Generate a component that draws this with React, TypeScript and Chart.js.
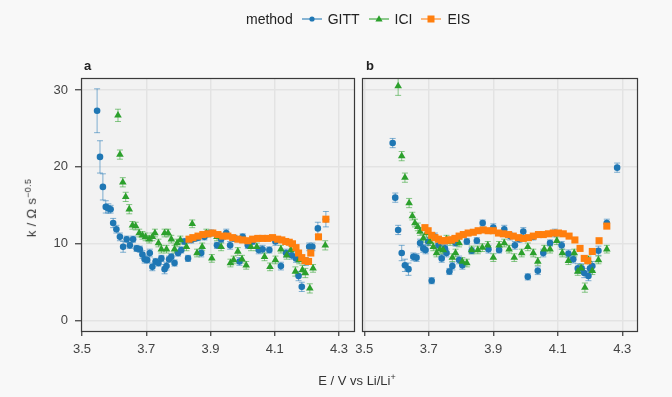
import React, { useEffect, useRef } from "react";
import { Chart, registerables } from "chart.js";

Chart.register(...registerables);

// ---------- DATA ----------
const xTicks = [3.5, 3.7, 3.9, 4.1, 4.3];
const yTicks = [0, 10, 20, 30];
const methods = ["GITT", "ICI", "EIS"];

// Panel a
const gittA_E = [3.547, 3.556, 3.565, 3.574, 3.582, 3.589, 3.597, 3.607, 3.618, 3.628, 3.639, 3.649, 3.659, 3.670, 3.680, 3.688, 3.695, 3.703, 3.711, 3.719, 3.729, 3.738, 3.747, 3.757, 3.763, 3.771, 3.778, 3.788, 3.799, 3.809, 3.819, 3.830, 3.840, 3.850, 3.861, 3.871, 3.881, 3.892, 3.902, 3.920, 3.933, 3.949, 3.961, 3.975, 3.990, 4.000, 4.016, 4.031, 4.050, 4.062, 4.083, 4.102, 4.119, 4.135, 4.153, 4.166, 4.174, 4.184, 4.197, 4.207, 4.217, 4.234, 4.259];
const gittA_k = [27.3, 21.3, 17.4, 14.8, 14.6, 14.5, 12.7, 11.9, 10.9, 9.6, 10.6, 9.8, 10.6, 9.4, 9.3, 8.6, 8.0, 7.9, 8.8, 7.0, 7.7, 7.5, 8.1, 6.7, 7.1, 8.0, 8.3, 7.5, 8.8, 9.2, 10.3, 8.1, 10.5, 10.7, 10.8, 8.8, 10.9, 11.3, 11.4, 9.8, 10.6, 11.4, 9.8, 10.7, 7.7, 10.9, 9.8, 10.3, 9.2, 9.3, 9.2, 10.3, 7.1, 8.8, 8.5, 8.1, 5.8, 4.4, 7.7, 9.6, 9.6, 12.0, 13.2];
const gittA_err = [2.85, 2.1, 1.7, 0.8, 0.6, 0.5, 0.6, 0.5, 0.5, 0.7, 0.4, 0.4, 0.4, 0.4, 0.4, 0.5, 0.5, 0.4, 0.5, 0.5, 0.4, 0.4, 0.4, 0.6, 0.5, 0.4, 0.4, 0.4, 0.4, 0.4, 0.4, 0.4, 0.4, 0.4, 0.4, 0.5, 0.4, 0.4, 0.4, 0.4, 0.4, 0.5, 0.5, 0.4, 0.5, 0.4, 0.4, 0.4, 0.5, 0.5, 0.4, 0.5, 0.5, 0.5, 0.5, 0.5, 0.6, 0.6, 0.5, 0.5, 0.5, 0.8, 1.0];

const iciA_E = [3.612, 3.618, 3.627, 3.636, 3.647, 3.657, 3.667, 3.678, 3.688, 3.698, 3.709, 3.719, 3.727, 3.738, 3.747, 3.757, 3.763, 3.768, 3.778, 3.788, 3.796, 3.806, 3.825, 3.843, 3.858, 3.874, 3.887, 3.904, 3.920, 3.933, 3.962, 3.972, 3.985, 3.998, 4.011, 4.026, 4.044, 4.068, 4.085, 4.102, 4.119, 4.137, 4.150, 4.164, 4.176, 4.186, 4.195, 4.209, 4.219, 4.257];
const iciA_k = [26.7, 21.6, 18.0, 16.1, 14.5, 12.4, 12.3, 11.4, 11.1, 10.9, 10.6, 10.9, 11.4, 10.1, 9.3, 11.4, 9.3, 11.4, 10.6, 9.3, 10.1, 10.5, 9.6, 12.6, 8.8, 9.6, 11.4, 8.1, 10.9, 9.6, 7.5, 7.9, 9.0, 8.0, 7.2, 9.6, 9.6, 8.3, 7.0, 7.9, 9.3, 8.5, 9.2, 6.4, 7.9, 6.6, 6.2, 4.2, 6.8, 9.8];
const iciA_err = [0.8, 0.6, 0.6, 0.6, 0.6, 0.5, 0.5, 0.5, 0.5, 0.5, 0.5, 0.5, 0.5, 0.5, 0.5, 0.5, 0.5, 0.5, 0.5, 0.5, 0.5, 0.5, 0.5, 0.5, 0.5, 0.5, 0.5, 0.5, 0.5, 0.5, 0.5, 0.5, 0.5, 0.5, 0.5, 0.5, 0.5, 0.5, 0.5, 0.5, 0.5, 0.5, 0.5, 0.6, 0.5, 0.6, 0.6, 0.6, 0.5, 0.6];

const eisA_E = [3.833, 3.845, 3.861, 3.876, 3.892, 3.907, 3.923, 3.938, 3.954, 3.969, 3.985, 4.000, 4.016, 4.031, 4.047, 4.062, 4.078, 4.093, 4.109, 4.122, 4.134, 4.145, 4.155, 4.166, 4.174, 4.184, 4.194, 4.205, 4.212, 4.236, 4.259];
const eisA_k = [10.6, 10.8, 11.0, 11.2, 11.3, 11.4, 11.2, 11.0, 11.0, 10.8, 10.6, 10.5, 10.4, 10.6, 10.7, 10.7, 10.7, 10.8, 10.6, 10.5, 10.3, 10.2, 10.0, 9.5, 8.8, 8.2, 7.8, 7.7, 8.8, 10.9, 13.2];

// Panel b
const gittB_E = [3.588, 3.596, 3.605, 3.616, 3.626, 3.637, 3.652, 3.662, 3.673, 3.683, 3.690, 3.698, 3.709, 3.719, 3.730, 3.740, 3.750, 3.755, 3.764, 3.773, 3.783, 3.794, 3.804, 3.818, 3.833, 3.849, 3.867, 3.885, 3.900, 3.918, 3.934, 3.952, 3.967, 3.981, 3.993, 4.007, 4.024, 4.038, 4.055, 4.076, 4.091, 4.112, 4.133, 4.148, 4.162, 4.174, 4.182, 4.195, 4.200, 4.207, 4.226, 4.252, 4.284];
const gittB_k = [23.1, 16.0, 11.8, 8.8, 7.2, 6.7, 8.3, 8.2, 10.1, 9.4, 9.2, 10.3, 5.2, 10.9, 9.8, 8.1, 9.4, 8.8, 6.4, 7.1, 10.1, 7.9, 7.2, 10.3, 9.1, 10.4, 12.7, 9.3, 12.1, 9.2, 11.9, 11.0, 9.8, 10.6, 11.6, 5.7, 10.9, 6.5, 8.8, 10.1, 11.4, 9.8, 8.7, 8.0, 6.8, 6.8, 6.2, 5.8, 6.8, 7.1, 9.1, 12.7, 19.9];
const gittB_err = [0.6, 0.6, 0.6, 1.0, 0.8, 0.8, 0.5, 0.5, 0.5, 0.5, 0.5, 0.5, 0.4, 0.5, 0.5, 0.5, 0.5, 0.5, 0.4, 0.5, 0.4, 0.5, 0.5, 0.4, 0.4, 0.4, 0.4, 0.5, 0.5, 0.4, 0.5, 0.5, 0.5, 0.4, 0.5, 0.4, 0.4, 0.5, 0.5, 0.4, 0.5, 0.5, 0.5, 0.5, 0.6, 0.6, 0.6, 0.6, 0.6, 0.6, 0.6, 0.5, 0.6];

const iciB_E = [3.605, 3.616, 3.626, 3.639, 3.649, 3.657, 3.666, 3.673, 3.683, 3.693, 3.704, 3.714, 3.724, 3.735, 3.745, 3.755, 3.766, 3.773, 3.783, 3.794, 3.804, 3.818, 3.833, 3.852, 3.866, 3.883, 3.900, 3.918, 3.934, 3.949, 3.965, 3.988, 4.007, 4.024, 4.038, 4.058, 4.076, 4.097, 4.114, 4.133, 4.151, 4.162, 4.172, 4.184, 4.195, 4.207, 4.226, 4.252];
const iciB_k = [30.5, 21.4, 18.6, 15.3, 13.6, 12.7, 12.2, 11.6, 10.7, 11.4, 10.3, 9.6, 8.8, 9.3, 9.2, 10.6, 10.3, 8.2, 8.8, 10.1, 7.7, 7.5, 9.2, 9.2, 9.5, 9.8, 8.2, 9.8, 10.1, 9.3, 8.2, 8.8, 9.6, 8.8, 7.7, 9.3, 9.3, 10.4, 8.8, 7.8, 8.8, 6.4, 6.8, 4.3, 7.9, 6.5, 7.9, 9.3];
const iciB_err = [1.2, 0.6, 0.6, 0.6, 0.5, 0.5, 0.5, 0.5, 0.5, 0.5, 0.5, 0.5, 0.5, 0.5, 0.5, 0.5, 0.5, 0.5, 0.5, 0.5, 0.5, 0.5, 0.5, 0.5, 0.5, 0.5, 0.5, 0.5, 0.5, 0.5, 0.5, 0.5, 0.5, 0.5, 0.5, 0.5, 0.5, 0.5, 0.5, 0.5, 0.5, 0.5, 0.5, 0.6, 0.5, 0.5, 0.5, 0.5];

const eisB_E = [3.688, 3.698, 3.709, 3.719, 3.730, 3.740, 3.750, 3.761, 3.771, 3.781, 3.794, 3.807, 3.822, 3.838, 3.853, 3.869, 3.884, 3.900, 3.916, 3.931, 3.947, 3.962, 3.978, 3.993, 4.009, 4.024, 4.040, 4.055, 4.071, 4.086, 4.102, 4.117, 4.135, 4.153, 4.169, 4.182, 4.193, 4.207, 4.228, 4.252];
const eisB_k = [12.1, 11.7, 11.1, 10.8, 10.6, 10.4, 10.4, 10.5, 10.5, 10.7, 11.0, 11.2, 11.4, 11.5, 11.7, 11.8, 11.7, 11.7, 11.4, 11.3, 11.2, 11.0, 10.8, 10.7, 10.8, 11.0, 11.2, 11.2, 11.3, 11.4, 11.4, 11.3, 11.0, 10.5, 9.4, 8.1, 7.8, 9.0, 10.4, 12.3];

// ---------- STYLE ----------
const COLORS = { GITT: "#1f77b4", ICI: "#2ca02c", EIS: "#ff7f0e" };
const ERR_COLORS = { GITT: "rgba(31,119,180,0.55)", ICI: "rgba(44,160,44,0.55)" };
const FONT = "'Liberation Sans', Arial, Helvetica, sans-serif";
const PAGE_BG = "#f8f8f8";
const PANEL_BG = "#f2f2f2";
const GRID = "#e3e3e3";
const BORDER = "#3a3a3a";

const pts = (xs: number[], ys: number[]) => xs.map((x, i) => ({ x, y: ys[i] }));

const panelPlugin = {
  id: "panelPlugin",
  beforeDraw(chart: any) {
    const { ctx, chartArea: a } = chart;
    ctx.save();
    ctx.fillStyle = PANEL_BG;
    ctx.fillRect(a.left, a.top, a.right - a.left, a.bottom - a.top);
    ctx.restore();
  },
  beforeDatasetsDraw(chart: any) {
    const { ctx, chartArea: a } = chart;
    const xs = chart.scales.x;
    const ys = chart.scales.y;
    ctx.save();
    ctx.beginPath();
    ctx.rect(a.left, a.top, a.right - a.left, a.bottom - a.top);
    ctx.clip();
    chart.data.datasets.forEach((ds: any) => {
      if (!ds.errs) return;
      ctx.strokeStyle = ds.errColor;
      ctx.lineWidth = 1;
      ds.data.forEach((p: any, i: number) => {
        const e = ds.errs[i];
        const px = xs.getPixelForValue(p.x);
        const y1 = ys.getPixelForValue(p.y - e);
        const y2 = ys.getPixelForValue(p.y + e);
        ctx.beginPath();
        ctx.moveTo(px, y1);
        ctx.lineTo(px, y2);
        ctx.moveTo(px - 3, y1);
        ctx.lineTo(px + 3, y1);
        ctx.moveTo(px - 3, y2);
        ctx.lineTo(px + 3, y2);
        ctx.stroke();
      });
    });
    ctx.restore();
  },
  afterDraw(chart: any) {
    const { ctx, chartArea: a } = chart;
    ctx.save();
    ctx.strokeStyle = BORDER;
    ctx.lineWidth = 1.2;
    ctx.strokeRect(a.left + 0.5, a.top + 0.5, a.right - a.left - 1, a.bottom - a.top - 1);
    ctx.restore();
  },
};

function makeConfig(
  gE: number[], gK: number[], gErr: number[],
  iE: number[], iK: number[], iErr: number[],
  eE: number[], eK: number[],
  xmin: number, xmax: number, showY: boolean,
  pad: { left: number; right: number }
): any {
  return {
    type: "scatter",
    data: {
      datasets: [
        {
          label: "GITT", data: pts(gE, gK), errs: gErr, errColor: ERR_COLORS.GITT,
          pointStyle: "circle", pointRadius: 3.3, backgroundColor: COLORS.GITT,
          borderColor: COLORS.GITT, borderWidth: 0, order: 3,
        },
        {
          label: "ICI", data: pts(iE, iK), errs: iErr, errColor: ERR_COLORS.ICI,
          pointStyle: "triangle", pointRadius: 4.4, backgroundColor: COLORS.ICI,
          borderColor: COLORS.ICI, borderWidth: 0, order: 2,
        },
        {
          label: "EIS", data: pts(eE, eK),
          pointStyle: "rect", pointRadius: 5, backgroundColor: COLORS.EIS,
          borderColor: COLORS.EIS, borderWidth: 0, order: 1,
        },
      ],
    },
    options: {
      animation: false,
      responsive: false,
      maintainAspectRatio: false,
      events: [],
      layout: { padding: { top: 78, bottom: 0, left: pad.left, right: pad.right } },
      plugins: { legend: { display: false }, tooltip: { enabled: false } },
      scales: {
        x: {
          type: "linear", min: xmin, max: xmax,
          afterBuildTicks: (s: any) => { s.ticks = xTicks.map((v) => ({ value: v })); },
          afterFit: (s: any) => { s.height = 65; },
          grid: { color: GRID, lineWidth: 1.5, drawTicks: true, tickLength: 4, tickColor: BORDER, tickWidth: 1.2 },
          border: { display: false },
          ticks: {
            autoSkip: false, maxRotation: 0, padding: 6, color: "#444",
            font: { family: FONT, size: 13 },
            callback: (v: any) => Number(v).toFixed(1),
          },
        },
        y: {
          type: "linear", min: -1.47, max: 31.56,
          afterBuildTicks: (s: any) => { s.ticks = yTicks.map((v) => ({ value: v })); },
          afterFit: (s: any) => { s.width = showY ? 81 : 0; },
          grid: { color: GRID, lineWidth: 1.5, drawTicks: showY, tickLength: 6, tickColor: BORDER, tickWidth: 1.2 },
          border: { display: false },
          ticks: {
            display: showY, padding: 7, color: "#444",
            font: { family: FONT, size: 13 },
            callback: (v: any) => String(v),
          },
        },
      },
    },
    plugins: [panelPlugin],
  };
}

function Panel(props: { cfg: any; left: number; width: number }) {
  const ref = useRef<HTMLCanvasElement>(null);
  useEffect(() => {
    const c = new Chart(ref.current as HTMLCanvasElement, props.cfg);
    return () => c.destroy();
  }, []);
  return (
    <canvas
      ref={ref}
      width={props.width}
      height={397}
      style={{ position: "absolute", left: props.left, top: 0, width: props.width, height: 397 }}
    />
  );
}

function LegendSymbol({ m }: { m: string }) {
  const c = (COLORS as any)[m];
  return (
    <svg width="22" height="12" style={{ margin: "0 5px 0 8px" }}>
      <line x1="1" y1="6" x2="21" y2="6" stroke={c} strokeWidth="1.5" opacity="0.7" />
      {m === "GITT" && <circle cx="11" cy="6" r="2.6" fill={c} />}
      {m === "ICI" && <polygon points="11,2.2 14.6,8.4 7.4,8.4" fill={c} />}
      {m === "EIS" && <rect x="7.5" y="2.5" width="7" height="7" fill={c} />}
    </svg>
  );
}

export default function App() {
  useEffect(() => {
    document.body.style.margin = "0";
    document.body.style.background = PAGE_BG;
  }, []);

  const cfgA = makeConfig(gittA_E, gittA_k, gittA_err, iciA_E, iciA_k, iciA_err, eisA_E, eisA_k,
    3.4969, 4.3496, true, { left: 0, right: 4 });
  const cfgB = makeConfig(gittB_E, gittB_k, gittB_err, iciB_E, iciB_k, iciB_err, eisB_E, eisB_k,
    3.4929, 4.3487, false, { left: 22, right: 34 });

  const txt: React.CSSProperties = { position: "absolute", fontFamily: FONT, color: "#222", whiteSpace: "nowrap", fontWeight: 400 };

  return (
    <div style={{ position: "fixed", left: 0, top: 0, width: 672, height: 397, background: PAGE_BG, overflow: "hidden" }}>
      <Panel cfg={cfgA} left={0} width={360} />
      <Panel cfg={cfgB} left={340} width={332} />

      {/* legend */}
      <div style={{ ...txt, left: 0, width: 716, top: 9, height: 20, display: "flex", justifyContent: "center", alignItems: "center", fontSize: 14 }}>
        <span>method</span>
        {methods.map((m) => (
          <React.Fragment key={m}>
            <LegendSymbol m={m} />
            <span>{m}</span>
          </React.Fragment>
        ))}
      </div>

      {/* panel titles */}
      <div style={{ ...txt, left: 84, top: 58, fontSize: 13, fontWeight: 700 }}>a</div>
      <div style={{ ...txt, left: 366, top: 58, fontSize: 13, fontWeight: 700 }}>b</div>

      {/* axis titles */}
      <div style={{ ...txt, left: 357, top: 372, transform: "translateX(-50%)", fontSize: 13, color: "#333" }}>
        E / V vs Li/Li<sup style={{ fontSize: 9 }}>+</sup>
      </div>
      <div style={{ ...txt, left: 31, top: 208, transform: "translate(-50%,-50%) rotate(-90deg)", fontSize: 13, color: "#333", letterSpacing: 0.3 }}>
        k / Ω s<sup style={{ fontSize: 9 }}>−0.5</sup>
      </div>
    </div>
  );
}
